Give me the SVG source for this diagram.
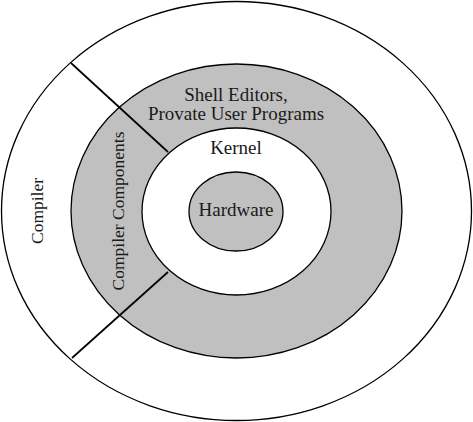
<svg xmlns="http://www.w3.org/2000/svg" width="473" height="422" viewBox="0 0 473 422">
<style>
.ring{stroke:#000;stroke-width:1.3}
.white{fill:#fff}
.gray{fill:#c0c0c0}
.lbl{font-family:"Liberation Serif","Times New Roman",serif;fill:#1a1a1a;text-anchor:middle}
.h{font-size:19px}
.v{font-size:17.5px}
.conn{stroke:#000;stroke-width:1.7;fill:none}
</style>
<rect width="473" height="422" fill="#fff"/>
<g id="compiler">
<ellipse class="ring white" cx="236.5" cy="211" rx="235" ry="209.5"/>
<text class="lbl v" transform="translate(42.5,211) rotate(-90)" x="0" y="0">Compiler</text>
</g>
<g id="shell-editors">
<ellipse class="ring gray" cx="236.5" cy="211" rx="165.5" ry="147"/>
<text class="lbl h" x="236" y="100.5" font-size="18.5">Shell Editors,</text>
<text class="lbl h" x="236" y="119.5" font-size="18.5">Provate User Programs</text>
</g>
<g id="compiler-components">
<text class="lbl v" transform="translate(124,211) rotate(-90)" x="0" y="0">Compiler Components</text>
</g>
<g id="kernel">
<ellipse class="ring white" cx="236.5" cy="211.5" rx="94.5" ry="83.5"/>
<text class="lbl h" x="236" y="154">Kernel</text>
</g>
<g id="hardware">
<ellipse class="ring gray" cx="236" cy="211.5" rx="47" ry="39.5"/>
<text class="lbl h" x="236" y="215.5">Hardware</text>
</g>
<g id="connectors">
<line class="conn" x1="71" y1="63" x2="168" y2="152"/>
<line class="conn" x1="168" y1="272" x2="72" y2="358"/>
</g>
</svg>
